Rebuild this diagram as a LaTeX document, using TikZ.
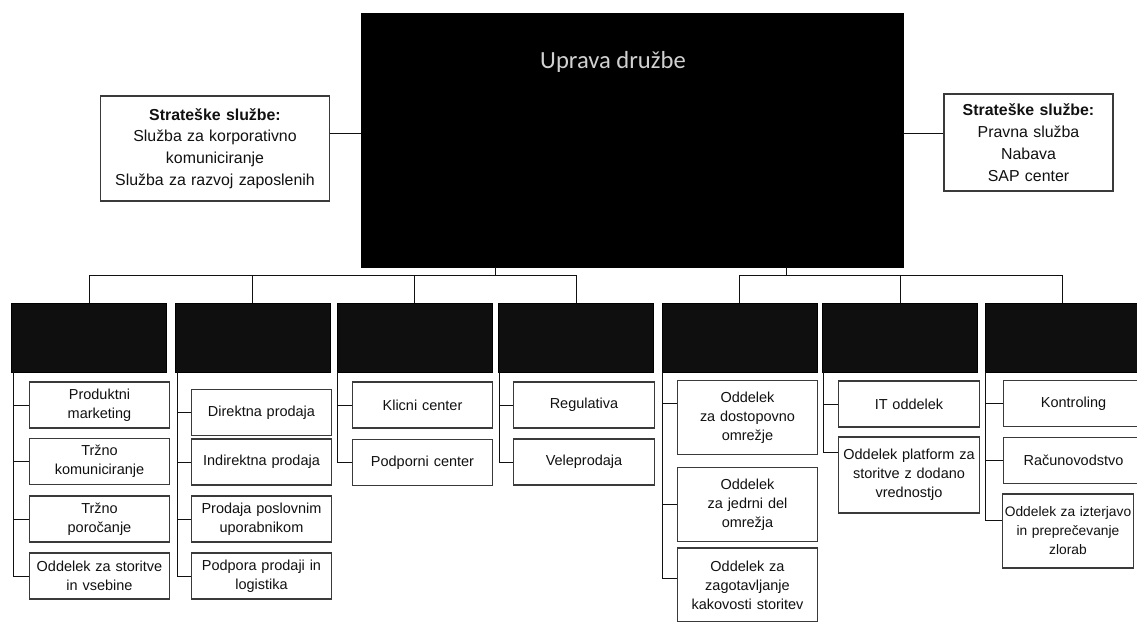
\documentclass[tikz,border=0pt]{standalone}
\usepackage{fontspec}
\setmainfont{Liberation Sans}
\newfontfamily\upravafont{Carlito}
\definecolor{cInk}{HTML}{111111}
\definecolor{cBox}{HTML}{3A3A3A}
\tikzset{
  every node/.style={font=\fontsize{10.3}{13.5}\selectfont, text=cInk},
  board/.style={fill=black, draw=black, minimum width=13.55cm, minimum height=6.35cm, inner sep=0pt},
  strat/.style={draw=cBox, line width=0.8pt, fill=white, align=center, inner sep=3pt, font=\fontsize{11.3}{15.5}\selectfont},
  head/.style={fill=black!94, draw=black, minimum width=3.875cm, minimum height=1.725cm, inner sep=0pt},
  unit/.style={draw=cBox, line width=0.8pt, fill=white, align=center, text width=3.45cm, inner xsep=1pt, inner ysep=1pt, minimum height=1.15cm},
  tall/.style={unit, minimum height=1.85cm},
  link/.style={draw=cInk, line width=0.6pt},
}
\begin{document}
\begin{tikzpicture}[x=0.025cm,y=-0.025cm]
\useasboundingbox (0,0) rectangle (1137,621);
% management and staff services
\node[board] (board) at (632,140) {};
\node[font=\upravafont\fontsize{17.5}{20}\selectfont, text=white!82!black] (uprava) at (613,62) {Uprava družbe};
\node[strat, minimum width=5.65cm, minimum height=2.625cm, text width=5.5cm] (sl) at (215,148.5) {\textbf{Strateške službe:}\\Služba za korporativno\\komuniciranje\\Služba za razvoj zaposlenih};
\node[strat, minimum width=4.225cm, minimum height=2.425cm, text width=4.0cm] (sr) at (1028.5,142.5) {\textbf{Strateške službe:}\\Pravna služba\\Nabava\\SAP center};
\draw[link] (sl.east |- 0,133) -- (board.west |- 0,133);
\draw[link] (board.east |- 0,133) -- (sr.west |- 0,133);
% divisions
\node[head] (h1) at (89,337.5) {};
\node[head] (h2) at (252.5,337.5) {};
\node[head] (h3) at (414.5,337.5) {};
\node[head] (h4) at (576,337.5) {};
\node[head] (h5) at (739.5,337.5) {};
\node[head] (h6) at (900,337.5) {};
\node[head] (h7) at (1062.5,337.5) {};
\coordinate (busL) at (495,275);
\coordinate (busR) at (786,275);
\draw[link] (board.south -| busL) -- (busL);
\draw[link] (board.south -| busR) -- (busR);
\draw[link] (h1.north) |- (busL) -| (h4.north);
\draw[link] (h2.north) -- (h2.north |- busL);
\draw[link] (h3.north) -- (h3.north |- busL);
\draw[link] (h5.north) |- (busR) -| (h7.north);
\draw[link] (h6.north) -- (h6.north |- busR);
% departments
\node[unit] (g1a) at (99.5,405) {Produktni\\marketing};
\node[unit] (g1b) at (99.5,461.5) {Tržno\\komuniciranje};
\node[unit] (g1c) at (99.5,519) {Tržno\\poročanje};
\node[unit] (g1d) at (99.5,576) {Oddelek za storitve\\in vsebine};
\node[unit] (g2a) at (261.5,412.5) {Direktna prodaja};
\node[unit] (g2b) at (261.5,462) {Indirektna prodaja};
\node[unit] (g2c) at (261.5,519) {Prodaja poslovnim\\uporabnikom};
\node[unit] (g2d) at (261.5,576) {Podpora prodaji in\\logistika};
\node[unit] (g3a) at (422.5,405) {Klicni center};
\node[unit] (g3b) at (422.5,462.5) {Podporni center};
\node[unit] (g4a) at (584,405) {Regulativa};
\node[unit] (g4b) at (584,462) {Veleprodaja};
\node[tall] (g5a) at (747.5,417.5) {Oddelek\\za dostopovno\\omrežje};
\node[tall] (g5b) at (747.5,504.5) {Oddelek\\za jedrni del\\omrežja};
\node[tall] (g5c) at (747.5,585) {Oddelek za\\zagotavljanje\\kakovosti storitev};
\node[unit] (g6a) at (909,404) {IT oddelek};
\node[tall, minimum height=1.9cm] (g6b) at (909,475) {Oddelek platform za\\storitve z dodano\\vrednostjo};
\node[unit] (g7a) at (1073.5,403.5) {Kontroling};
\node[unit] (g7b) at (1073.5,460.5) {Računovodstvo};
\node[tall, font=\fontsize{9.8}{13.5}\selectfont, text width=3.2cm] (g7c) at (1068,531) {Oddelek za izterjavo\\in preprečevanje\\zlorab};
% spines
\coordinate (s1) at ([xshift=0.06cm]h1.south west);
\coordinate (s2) at ([xshift=0.06cm]h2.south west);
\coordinate (s3) at ([xshift=0.03cm]h3.south west);
\coordinate (s4) at ([xshift=0.03cm]h4.south west);
\coordinate (s5) at ([xshift=0.03cm]h5.south west);
\coordinate (s6) at ([xshift=0.03cm]h6.south west);
\coordinate (s7) at ([xshift=0.03cm]h7.south west);
\coordinate (p5a) at ([yshift=0.36cm]g5a.west);
\coordinate (p5c) at ([yshift=0.17cm]g5c.west);
\coordinate (p6b) at ([yshift=0.57cm]g6b.west);
\coordinate (p7c) at ([yshift=0.27cm]g7c.west);
\draw[link] (s1) |- (g1d.west);
\draw[link] (s1 |- g1a.west) -- (g1a.west);
\draw[link] (s1 |- g1b.west) -- (g1b.west);
\draw[link] (s1 |- g1c.west) -- (g1c.west);
\draw[link] (s2) |- (g2d.west);
\draw[link] (s2 |- g2a.west) -- (g2a.west);
\draw[link] (s2 |- g2b.west) -- (g2b.west);
\draw[link] (s2 |- g2c.west) -- (g2c.west);
\draw[link] (s3) |- (g3b.west);
\draw[link] (s3 |- g3a.west) -- (g3a.west);
\draw[link] (s4) |- (g4b.west);
\draw[link] (s4 |- g4a.west) -- (g4a.west);
\draw[link] (s5) |- (p5c);
\draw[link] (s5 |- p5a) -- (p5a);
\draw[link] (s5 |- g5b.west) -- (g5b.west);
\draw[link] (s6) |- (p6b);
\draw[link] (s6 |- g6a.west) -- (g6a.west);
\draw[link] (s7) |- (p7c);
\draw[link] (s7 |- g7a.west) -- (g7a.west);
\draw[link] (s7 |- g7b.west) -- (g7b.west);
\end{tikzpicture}
\end{document}
